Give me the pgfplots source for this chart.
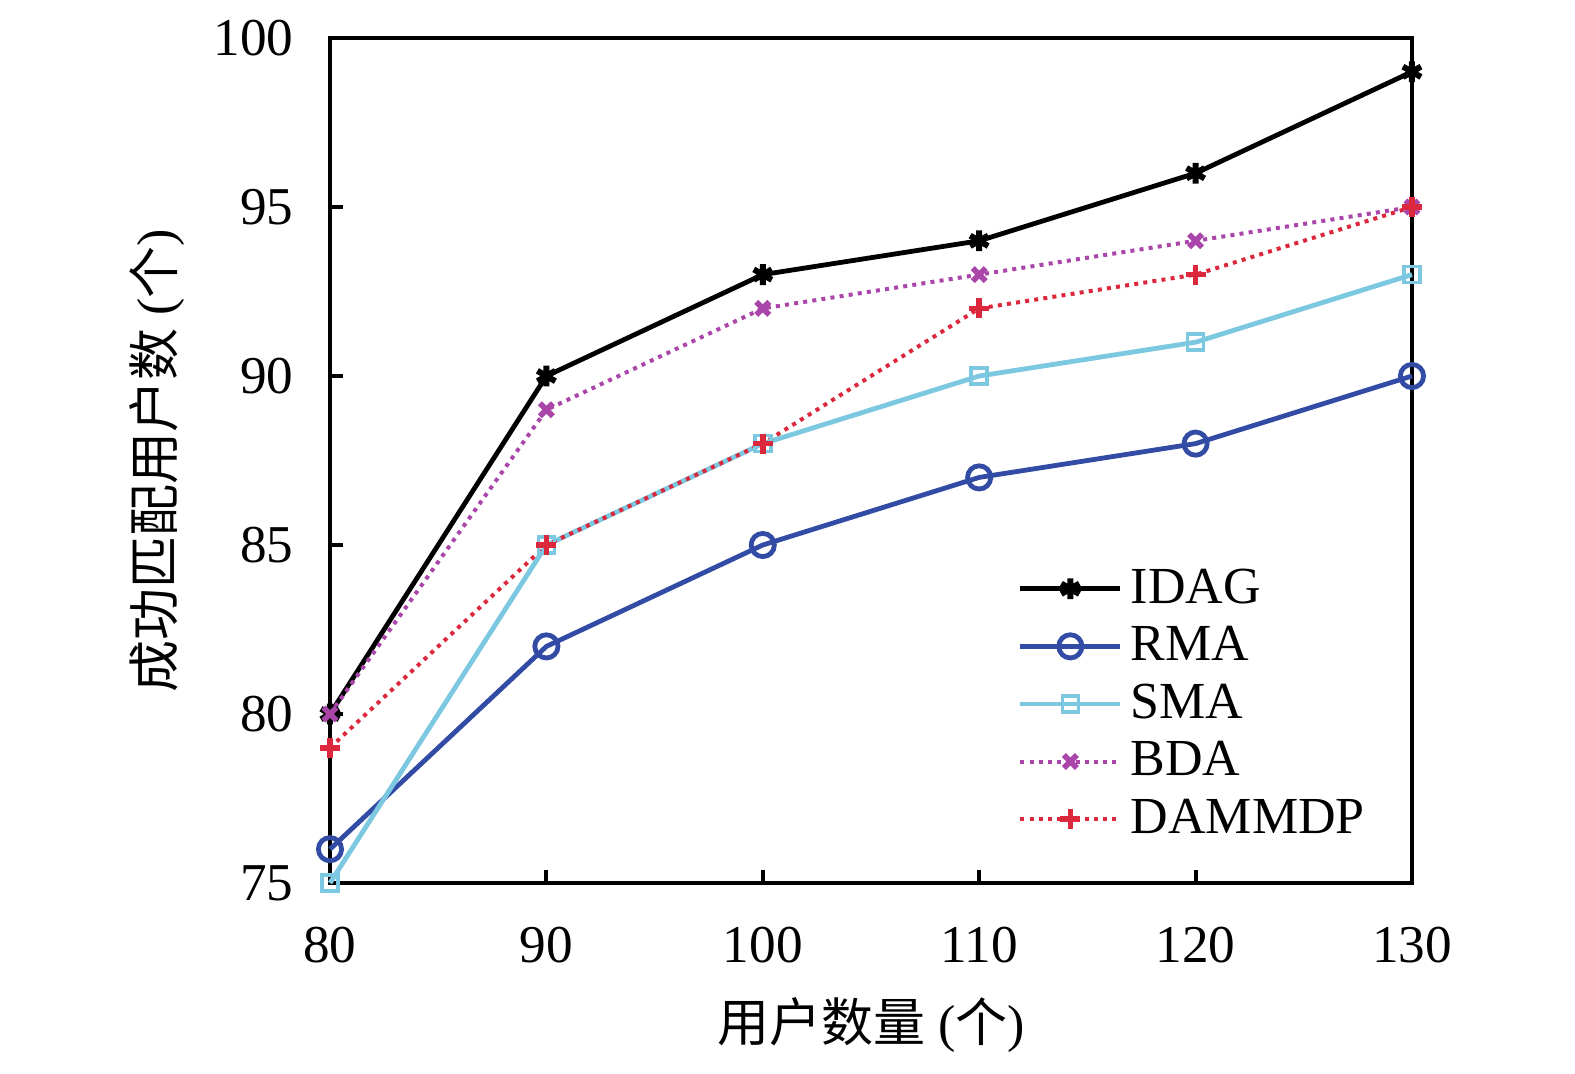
\documentclass[border=0pt]{standalone}
\usepackage{pgfplots}
\pgfplotsset{compat=1.18}
\usepackage{fontspec}
\setmainfont{Liberation Serif}
\newfontfamily\cjk{Noto Sans CJK SC}
\definecolor{cRMA}{HTML}{324BA5}
\definecolor{cSMA}{HTML}{7DC8E1}
\definecolor{cBDA}{HTML}{AA46AA}
\definecolor{cDAM}{HTML}{DC283C}
\begin{document}
\begin{tikzpicture}
\begin{axis}[
  scale only axis,
  width=270.5pt, height=211.25pt,
  xmin=80, xmax=130, ymin=75, ymax=100,
  xtick={80,90,...,130}, ytick={75,80,...,100},
  axis line style={line width=1pt},
  tick style={line width=1pt, black},
  major tick length=3.3pt,
  tick align=inside,
  xtick pos=bottom, ytick pos=left,
  clip=false,
  /pgf/number format/assume math mode=true,
  tick label style={font=\fontsize{13.3}{16}\selectfont},
  xticklabel style={yshift=-7.6pt},
  yticklabel style={xshift=-5.6pt},
  label style={font=\fontsize{13}{16}\selectfont},
  xlabel={{\cjk 用户数量} ({\cjk 个})},
  ylabel={{\cjk 成功匹配用户数} ({\cjk 个})},
  xlabel style={at={(axis description cs:0.5,-0.168)}, anchor=center},
  ylabel style={at={(axis description cs:-0.16,0.5)}, anchor=center},
  legend style={draw=none, fill=none, at={(axis description cs:0.624,0.392)}, anchor=north west,
    font=\fontsize{13}{15}\selectfont, row sep=0.3pt, nodes={inner sep=2pt}},
  legend cell align=left,
  legend image code/.code={\draw[mark repeat=2,mark phase=2] plot coordinates {(0pt,0pt)(12.5pt,0pt)(25pt,0pt)};},
]
\addplot[black, line width=1.2pt, mark=asterisk, mark size=2.6pt, mark options={line width=1.5pt, solid}]
  coordinates {(80,80)(90,90)(100,93)(110,94)(120,96)(130,99)};
\addlegendentry{IDAG}
\addplot[cRMA, line width=1.2pt, mark=o, mark size=2.9pt, mark options={line width=1.2pt, solid}]
  coordinates {(80,76)(90,82)(100,85)(110,87)(120,88)(130,90)};
\addlegendentry{RMA}
\addplot[cSMA, line width=1.2pt, mark=square, mark size=2pt, mark options={line width=0.9pt, solid}]
  coordinates {(80,75)(90,85)(100,88)(110,90)(120,91)(130,93)};
\addlegendentry{SMA}
\addplot[cBDA, line width=1pt, dash pattern=on 1pt off 1.3pt, mark=x, mark size=2.3pt, mark options={line width=1.4pt, solid}]
  coordinates {(80,80)(90,89)(100,92)(110,93)(120,94)(130,95)};
\addlegendentry{BDA}
\addplot[cDAM, line width=1pt, dash pattern=on 1pt off 1.3pt, mark=+, mark size=2.5pt, mark options={line width=1.4pt, solid}]
  coordinates {(80,79)(90,85)(100,88)(110,92)(120,93)(130,95)};
\addlegendentry{DAMMDP}
\end{axis}
\pgfresetboundingbox
\path[use as bounding box] (-82.5pt,-47.5pt) rectangle (311.25pt,220.75pt);
\end{tikzpicture}
\end{document}
